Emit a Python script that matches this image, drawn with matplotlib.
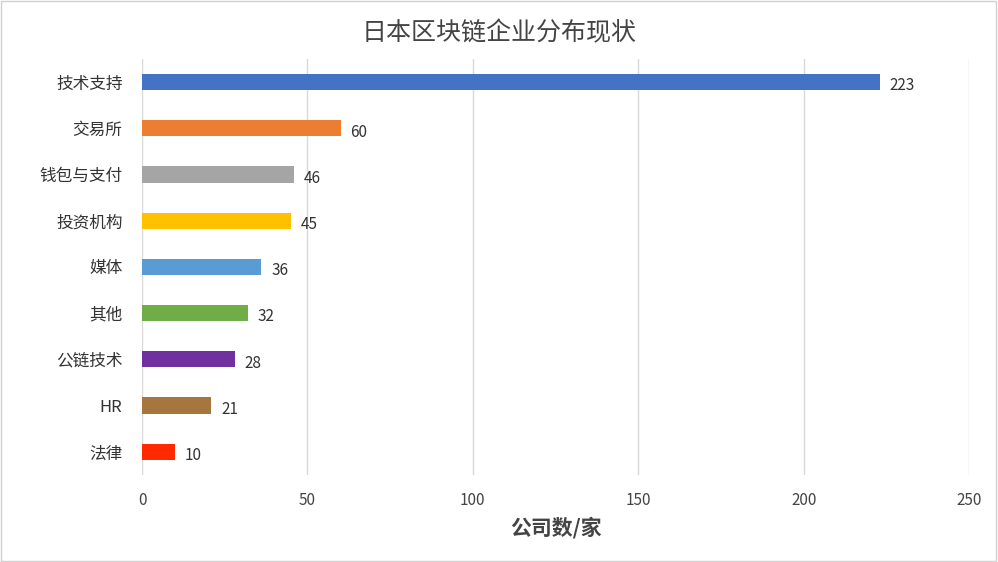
import matplotlib.pyplot as plt
from matplotlib.patches import Rectangle

plt.rcParams['font.family'] = ['Noto Sans CJK SC', 'DejaVu Sans']

categories = ["技术支持", "交易所", "钱包与支付", "投资机构", "媒体", "其他", "公链技术", "HR", "法律"]
values = [223, 60, 46, 45, 36, 32, 28, 21, 10]
colors = ["#4472C4", "#ED7D31", "#A5A5A5", "#FFC000", "#5B9BD5", "#70AD47", "#7030A0", "#A5773F", "#FF2A00"]
xticks = [0, 50, 100, 150, 200, 250]

fig = plt.figure(figsize=(9.98, 5.62), dpi=100)
ax = fig.add_axes([0.1423, 0.155, 0.8287, 0.74])
pos = list(range(len(categories)))
ax.barh(pos, values, height=0.35, color=colors, zorder=3)
for p, v in zip(pos, values):
    ax.text(v + 3, p + 0.08, str(v), va="center", ha="left", fontsize=11, color="#333333")
ax.set_yticks(pos)
ax.set_yticklabels(categories, fontsize=12, color="#333333")
ax.set_ylim(len(categories) - 0.5, -0.5)
ax.set_xlim(0, 250)
ax.set_xticks(xticks)
ax.tick_params(axis="x", labelsize=11, colors="#444444", length=0, pad=12)
ax.tick_params(axis="y", length=0, pad=14)
ax.grid(axis="x", color="#D9D9D9", linewidth=1, zorder=0)
for s in ax.spines.values():
    s.set_visible(False)
ax.set_xlabel("公司数/家", fontsize=15, fontweight="bold", color="#444444", labelpad=6)
fig.text(0.5, 0.94, "日本区块链企业分布现状", ha="center", va="center", fontsize=18, color="#444444")
fig.patches.append(Rectangle((0.001, 0.001), 0.997, 0.997, transform=fig.transFigure,
                             fill=False, edgecolor="#D0D0D0", linewidth=1))
fig.savefig("out.png", dpi=100)
